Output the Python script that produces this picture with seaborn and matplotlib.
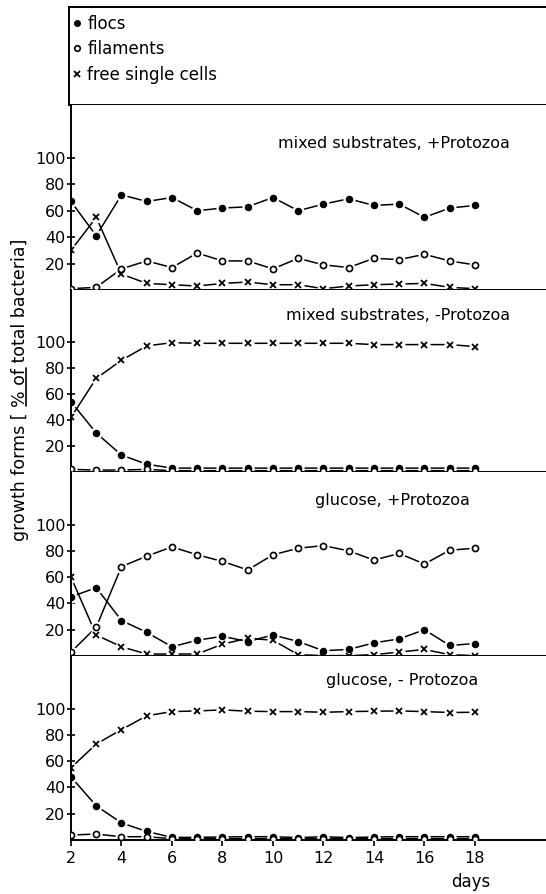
import matplotlib
matplotlib.use("Agg")
import matplotlib.pyplot as plt
import pandas as pd
import seaborn as sns
from matplotlib.lines import Line2D

sns.set_theme(style="white")
plt.rcParams["font.family"] = ["DejaVu Sans"]
plt.rcParams["text.color"] = "black"
plt.rcParams["axes.labelcolor"] = "black"

days = list(range(2, 19))

titles = ["mixed substrates, +Protozoa",
          "mixed substrates, -Protozoa",
          "glucose, +Protozoa",
          "glucose, - Protozoa"]

# panel 1: mixed substrates, +Protozoa
flocs_1 = [67, 41, 72, 67, 70, 60, 62, 63, 70, 60, 65, 69, 64, 65, 55, 62, 64]
fil_1 = [1, 2, 16, 22, 17, 28, 22, 22, 16, 24, 19, 17, 24, 23, 27, 22, 19]
free_1 = [30, 55, 12, 5, 4, 3, 5, 6, 4, 4, 1, 3, 4, 4.5, 5, 2, 1]

# panel 2: mixed substrates, -Protozoa
flocs_2 = [54, 30, 13, 6, 3, 3, 3, 3, 3, 3, 3, 3, 3, 3, 3, 3, 3]
fil_2 = [2, 1.5, 1.5, 2, 1, 1, 1, 1, 1, 1, 1, 1, 1, 1, 1, 1, 1]
free_2 = [42, 72, 86, 97, 99.5, 99, 99, 99, 99, 99, 99, 99, 98, 98, 98, 98, 96.5]

# panel 3: glucose, +Protozoa
flocs_3 = [45, 52, 27, 18, 7, 12, 15, 11, 16, 11, 4, 5, 10, 13, 20, 8, 9.5]
fil_3 = [3, 22, 68, 76, 83, 77, 72, 65.5, 77, 82, 84, 80, 73, 78, 70, 80.5, 82]
free_3 = [60, 16, 7, 1.5, 1.5, 1.5, 9, 13.5, 12, 1, 0.3, 0.3, 1, 3, 5, 1, 0.3]

# panel 4: glucose, -Protozoa
flocs_4 = [48, 26, 13, 6.5, 2, 2, 2.3, 2.5, 2.5, 1.8, 2.5, 1.8, 2.3, 2.5, 2.5, 2.5, 2.5]
fil_4 = [3.8, 4.5, 2.5, 2.5, 1, 1, 1, 1, 1, 1, 1, 1, 1, 1, 1, 1, 1]
free_4 = [55, 73, 84, 94.5, 97.7, 98.2, 99, 98, 97.7, 97.7, 97.2, 97.7, 98, 98.2, 97.7, 97, 97.2]

panels = [
    (flocs_1, fil_1, free_1),
    (flocs_2, fil_2, free_2),
    (flocs_3, fil_3, free_3),
    (flocs_4, fil_4, free_4),
]

legend_labels = ["flocs", "filaments", "free single cells"]
ylabel_pre = "growth forms [ "
ylabel_ul = "% of"
ylabel_post = " total bacteria]"

W, H = 546, 894
fig = plt.figure(figsize=(W / 100, H / 100), dpi=100)

left_px = 71
tops = [105, 290, 472, 656]
bottoms = [290, 472, 656, 840]

# legend box
axl = fig.add_axes([69 / W, 1 - 105 / H, 1 - 69 / W + 0.02, 98 / H])
axl.set_xticks([]); axl.set_yticks([])
for s in ["left", "top", "bottom"]:
    axl.spines[s].set_color("black"); axl.spines[s].set_linewidth(1.4)
axl.spines["right"].set_visible(False)
axl.set_facecolor("white")
handles = [
    Line2D([], [], ls="", marker="o", ms=4, mfc="black", mec="black"),
    Line2D([], [], ls="", marker="o", ms=4, mfc="white", mec="black", mew=1.2),
    Line2D([], [], ls="", marker="x", ms=4.5, mec="black", mew=1.3),
]
axl.legend(handles, legend_labels, loc="upper left",
           frameon=False, handlelength=0.5, handletextpad=0.35, labelspacing=0.45,
           fontsize=12, borderaxespad=0.0, bbox_to_anchor=(-0.005, 0.99),
           labelcolor="black")

styles = [
    dict(marker="o", ms=4.4, mfc="black", mec="black", mew=1.0),
    dict(marker="o", ms=4.4, mfc="white", mec="black", mew=1.2),
    dict(marker="x", ms=4.5, mfc="black", mec="black", mew=1.3),
]

for i, (series, title) in enumerate(zip(panels, titles)):
    t, b = tops[i], bottoms[i]
    ax = fig.add_axes([left_px / W, 1 - b / H, 1 - left_px / W + 0.02, (b - t) / H])
    for vals, st in zip(series, styles):
        df = pd.DataFrame({"day": days, "value": vals})
        sns.lineplot(data=df, x="day", y="value", ax=ax, color="black", lw=1.1,
                     zorder=1)
        sns.lineplot(data=df, x="day", y="value", ax=ax, color="white", lw=0,
                     marker="o", ms=8, mfc="white", mec="white", zorder=2)
    for vals, st in zip(series, styles):
        df = pd.DataFrame({"day": days, "value": vals})
        sns.lineplot(data=df, x="day", y="value", ax=ax, color="black", lw=0,
                     zorder=3, **st)
    ax.set_xlim(2, 2 + (W + 11 - left_px) / 25.25)
    ax.set_ylim(0, 140)
    ax.set_yticks([20, 40, 60, 80, 100])
    ax.set_yticklabels(["20", "40", "60", "80", "100"])
    ax.tick_params(axis="y", direction="inout", length=6, width=1.2, labelsize=11.5,
                   pad=1, left=True, colors="black")
    ax.set_xlabel(""); ax.set_ylabel("")
    ax.set_facecolor("white")
    for s in ["left", "bottom"]:
        ax.spines[s].set_color("black"); ax.spines[s].set_linewidth(1.4)
    ax.spines["top"].set_visible(False)
    ax.spines["right"].set_visible(False)
    if i < 3:
        ax.set_xticks([])
    else:
        ax.set_xticks(list(range(2, 19, 2)))
        ax.set_xticklabels([str(d) for d in range(2, 19, 2)])
        ax.tick_params(axis="x", direction="out", length=4, width=1.2, labelsize=11.5,
                       pad=4, bottom=True, colors="black")
    title_right = [510, 510, 470, 478][i]
    title_y = [143, 315, 500, 680][i]
    ax.text(title_right / W, 1 - title_y / H, title, transform=fig.transFigure,
            ha="right", va="center", fontsize=11.5, color="black")

fig.text(471 / W, 1 - 882 / H, "days", ha="center", va="center", fontsize=12)

# y label with underlined "% of"
ylab_fs = 12.5
full = ylabel_pre + ylabel_ul + ylabel_post
ylab = fig.text(20 / W, 1 - 390 / H, full, rotation=90, ha="center", va="center",
                fontsize=ylab_fs)
renderer = fig.canvas.get_renderer()
bb_full = ylab.get_window_extent(renderer)
tmp1 = fig.text(0, 0, ylabel_pre, fontsize=ylab_fs)
tmp2 = fig.text(0, 0, ylabel_pre + ylabel_ul, fontsize=ylab_fs)
w1 = tmp1.get_window_extent(renderer).width
w2 = tmp2.get_window_extent(renderer).width
tmp1.remove(); tmp2.remove()
y0 = bb_full.y0 + w1 + 1
y1 = bb_full.y0 + w2
x_ul = bb_full.x1 - 3.5
fig.add_artist(Line2D([x_ul / W, x_ul / W], [y0 / H, y1 / H], transform=fig.transFigure,
                      color="black", lw=1.2))

fig.savefig("out.png", dpi=100, facecolor="white")
